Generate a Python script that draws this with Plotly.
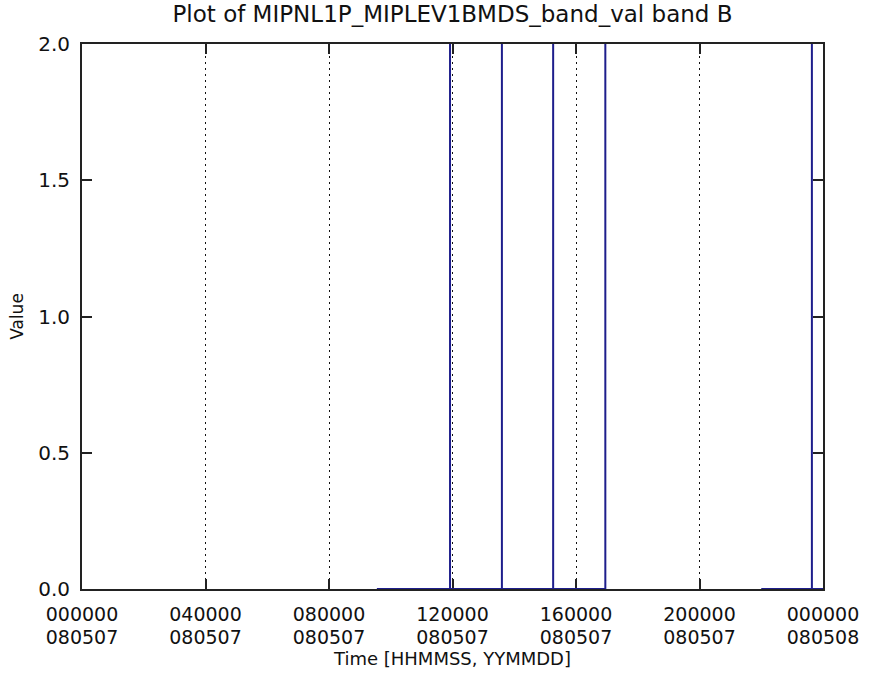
import plotly.graph_objects as go

# ---- data (hours since 000000 on 080507) ----
seg1_hours = [9.55, 11.92, 11.92, 11.92, 13.60, 13.60, 13.60, 15.26, 15.26, 15.26, 16.95, 16.95]
seg1_values = [0.0, 0.0, 2.0, 0.0, 0.0, 2.0, 0.0, 0.0, 2.0, 0.0, 0.0, 2.0]
seg2_hours = [22.0, 23.64, 23.64, 23.64, 24.0]
seg2_values = [0.0, 0.0, 2.0, 0.0, 0.0]

tick_hours = [0, 4, 8, 12, 16, 20, 24]
tick_time = ["000000", "040000", "080000", "120000", "160000", "200000", "000000"]
tick_date = ["080507", "080507", "080507", "080507", "080507", "080507", "080508"]
y_ticks = [0.0, 0.5, 1.0, 1.5, 2.0]
y_tick_labels = ["0.0", "0.5", "1.0", "1.5", "2.0"]

LINE = "#1e1e8c"
AX = "#222222"
FONT = "DejaVu Sans"
TICK_SIZE = 19

fig = go.Figure()
fig.add_trace(go.Scatter(x=seg1_hours + [None] + seg2_hours,
                         y=seg1_values + [None] + seg2_values,
                         mode="lines", line=dict(color=LINE, width=2),
                         connectgaps=False, showlegend=False, hoverinfo="skip"))
# invisible trace to activate second x axis (date row)
fig.add_trace(go.Scatter(x=[tick_hours[0], tick_hours[-1]], y=[None, None], xaxis="x2",
                         mode="lines", showlegend=False, hoverinfo="skip"))

common_x = dict(range=[0, 24], tickmode="array", tickvals=tick_hours, zeroline=False,
                automargin=False)

fig.update_layout(
    width=873, height=675,
    paper_bgcolor="white", plot_bgcolor="white",
    margin=dict(l=82, r=50, t=44, b=86),
    font=dict(family=FONT, color="#111111"),
    title=dict(text="Plot of MIPNL1P_MIPLEV1BMDS_band_val band B",
               x=0.5, xref="paper", xanchor="center", y=1, yref="container",
               yanchor="top", pad=dict(t=6),
               font=dict(family=FONT, size=23, color="#111111")),
    xaxis=dict(**common_x, ticktext=tick_time,
               showgrid=True, gridcolor="#111111", gridwidth=1, griddash="2px,4px",
               showline=True, linecolor=AX, linewidth=2, layer="below traces",
               ticks="inside", ticklen=10, tickcolor=AX, tickwidth=1.5,
               mirror="ticks", ticklabelstandoff=7,
               tickfont=dict(size=TICK_SIZE, family=FONT)),
    xaxis2=dict(**common_x, ticktext=tick_date, overlaying="x", anchor="y", side="bottom",
                showgrid=False, showline=False, ticks="", ticklabelstandoff=35,
                tickfont=dict(size=TICK_SIZE, family=FONT),
                title=dict(text="Time [HHMMSS, YYMMDD]", font=dict(size=18, family=FONT),
                           standoff=0)),
    yaxis=dict(range=[0, 2], tickmode="array", tickvals=y_ticks, ticktext=y_tick_labels,
               showgrid=False, zeroline=False, showline=True, linecolor=AX, linewidth=2,
               mirror="ticks", ticks="inside", ticklen=10, tickcolor=AX, tickwidth=1.5,
               ticklabelstandoff=6, tickfont=dict(size=20, family=FONT),
               automargin=False,
               title=dict(text="Value", font=dict(size=17, family=FONT), standoff=10)),
)

fig.write_html("out.html", config={"displayModeBar": False},
               post_script="document.body.style.margin='0';document.body.style.overflow='hidden';")
